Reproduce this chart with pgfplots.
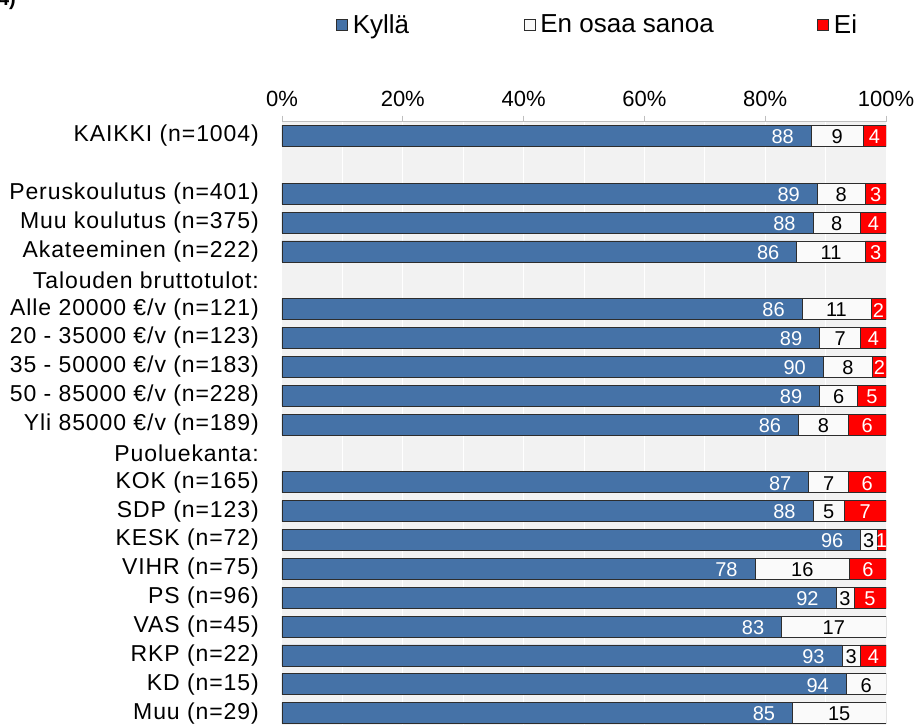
\documentclass[border=0pt]{standalone}
\usepackage{pgfplots}
\pgfplotsset{compat=1.18}
\usepackage{pgfplotstable}
\usepackage{fontspec}
\setmainfont{Liberation Sans}
\newfontfamily\labfont[LetterSpace=4]{Liberation Sans}
\definecolor{kblue}{RGB}{69,114,167}
\definecolor{eowhite}{RGB}{250,250,250}
\definecolor{eired}{RGB}{255,0,0}
\definecolor{bgray}{RGB}{242,242,242}
\definecolor{axgray}{RGB}{191,191,191}
\definecolor{bord}{RGB}{45,45,45}

\pgfplotstableread{
y   k    kl  e    el  r    rl
0   87.6 88  8.6  9   3.8  4
-2  88.6 89  8.0  8   3.4  3
-3  87.9 88  7.9  8   4.2  4
-4  85.2 86  11.4 11  3.4  3
-6  86.1 86  11.4 11  2.5  2
-7  89.0 89  6.8  7   4.2  4
-8  89.6 90  8.2  8   2.2  2
-9  89.0 89  6.3  6   4.7  5
-10 85.5 86  8.3  8   6.2  6
-12 87.2 87  6.6  7   6.2  6
-13 87.9 88  5.2  5   6.9  7
-14 95.8 96  2.7  3   1.5  1
-15 78.3 78  15.7 16  6.0  6
-16 91.7 92  3.0  3   5.3  5
-17 82.7 83  17.3 17  0    {}
-18 92.7 93  3.1  3   4.2  4
-19 93.4 94  6.6  6   0    {}
-20 84.5 85  15.5 15  0    {}
}\data

\begin{document}
\begin{tikzpicture}[x=1pt,y=1pt]
\useasboundingbox (0,0) rectangle (921,-725);
\node[anchor=south east, inner sep=0pt, font=\fontsize{20}{24}\selectfont\bfseries] at (16,-10) {4)};
\begin{axis}[
  at={(282pt,-727.5pt)}, anchor=south west,
  scale only axis, width=604pt, height=606pt,
  xbar stacked, bar width=21pt,
  xmin=0, xmax=100, ymin=-20.5, ymax=0.5,
  axis background/.style={fill=bgray},
  axis x line*=top, axis y line*=left,
  y axis line style={draw=none},
  x axis line style={draw=axgray, line width=0.8pt},
  xtick={0,20,...,100}, minor x tick num=1, minor tick length=0pt,
  major tick length=6pt, xtick align=outside,
  xtick style={draw=axgray, line width=0.8pt},
  xmajorgrids, xminorgrids,
  major x grid style={draw=white, line width=1pt},
  minor x grid style={draw=white, line width=1pt},
  /pgf/number format/assume math mode=true,
  xticklabel={\pgfmathprintnumber{\tick}\%},
  xticklabel style={font=\fontsize{22}{26}\selectfont, inner sep=0pt, yshift=9pt},
  ytick={0,-1,...,-20}, ytick style={draw=none},
  yticklabels={KAIKKI (n=1004),,Peruskoulutus (n=401),Muu koulutus (n=375),Akateeminen (n=222),Talouden bruttotulot:,Alle 20000 €/v (n=121),20 - 35000 €/v (n=123),35 - 50000 €/v (n=183),50 - 85000 €/v (n=228),Yli 85000 €/v (n=189),Puoluekanta:,KOK (n=165),SDP (n=123),KESK (n=72),VIHR (n=75),PS (n=96),VAS (n=45),RKP (n=22),KD (n=15),Muu (n=29)},
  yticklabel style={anchor=east, inner sep=0pt, xshift=-23pt, font=\fontsize{23}{27}\labfont},
  legend columns=3,
  legend style={at={(0.0894,1.16)}, anchor=west, draw=none, fill=none, inner sep=0pt,
    font=\fontsize{26}{30}\selectfont, nodes={inner sep=0pt},
    /tikz/every odd column/.append style={column sep=5pt}},
  legend cell align=left,
  legend image code/.code={\draw[#1, line width=0.6pt] (0pt,-5.5pt) rectangle (11pt,5.5pt);},
  point meta=explicit symbolic,
  nodes near coords,
]
\addplot[fill=kblue, draw=bord, line width=0.7pt,
  visualization depends on={rawx \as \segw},
  nodes near coords style={anchor=east, inner sep=0pt, xshift={3.02pt*\segw-17pt}, yshift=-1pt, text=white, font=\fontsize{20}{22}\selectfont}]
  table[x=k, y=y, meta=kl] {\data};
\addlegendentry{\makebox[171pt][l]{Kyllä}}
\addplot[fill=eowhite, draw=bord, line width=0.7pt,
  nodes near coords style={anchor=center, inner sep=0pt, yshift=-1pt, text=black, font=\fontsize{20}{22}\selectfont}]
  table[x=e, y=y, meta=el] {\data};
\addlegendentry{\makebox[277pt][l]{En osaa sanoa}}
\addplot[fill=eired, draw=bord, line width=0.7pt,
  nodes near coords style={anchor=center, inner sep=0pt, yshift=-1pt, text=white, font=\fontsize{20}{22}\selectfont}]
  table[x=r, y=y, meta=rl] {\data};
\addlegendentry{Ei}
\end{axis}
\end{tikzpicture}
\end{document}
